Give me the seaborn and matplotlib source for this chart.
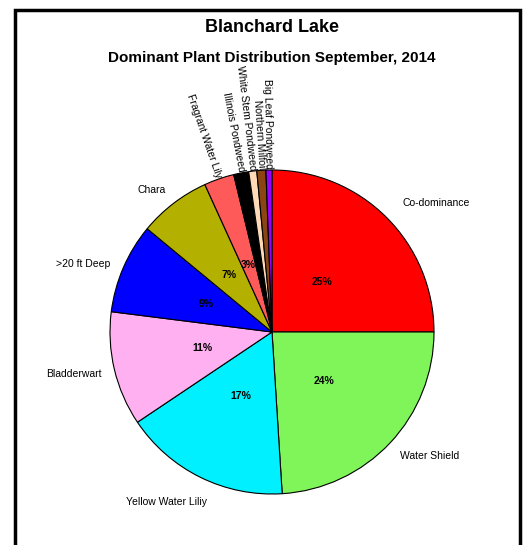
import matplotlib
matplotlib.use("Agg")
import matplotlib.pyplot as plt
import numpy as np
import seaborn as sns
from matplotlib.patches import Rectangle

# ---- data ----
categories = ["Co-dominance", "Water Shield", "Yellow Water Liliy", "Bladderwart",
              ">20 ft Deep", "Chara", "Fragrant Water Lily", "Illinois Pondweed",
              "White Stem Pondweed", "Northern Milfoil", "Big Leaf Pondweed"]
shares = [25, 24, 16.6, 11.4, 9, 7.2, 3, 1.5, 0.8, 0.9, 0.6]
colors = ["#FF0000", "#80F55A", "#00F0FF", "#FFB0F0", "#0000FF", "#B4B000",
          "#FF5A5A", "#000000", "#FFDAB9", "#8B4513", "#9900FF"]
rotated = ["Fragrant Water Lily", "Illinois Pondweed", "White Stem Pondweed",
           "Northern Milfoil", "Big Leaf Pondweed"]

# small label nudges, in pixels (x right, y up)
nudge = {"Co-dominance": (4, 3), "Water Shield": (-2, -2),
         "Yellow Water Liliy": (14, -10), "Bladderwart": (3, -1),
         ">20 ft Deep": (2, -3), "Chara": (2, 1)}

sns.set_theme(style="white")
plt.rcParams["font.family"] = ["Liberation Sans", "DejaVu Sans"]
plt.rcParams["text.color"] = "black"

fig = plt.figure(figsize=(5.29, 5.45), dpi=100)

# frame around the chart (bottom edge runs off the image)
fig.patches.append(Rectangle((15 / 529, -0.05), (520 - 15) / 529, 1 - 9.5 / 545 + 0.05,
                             transform=fig.transFigure, fill=False,
                             edgecolor="black", linewidth=2.5))

fig.text(272 / 529, 1 - 27 / 545, "Blanchard Lake", ha="center", va="center",
         fontsize=13, fontweight="bold")
fig.text(272 / 529, 1 - 58 / 545, "Dominant Plant Distribution September, 2014",
         ha="center", va="center", fontsize=11, fontweight="bold")

R_PX = 162
ax = fig.add_axes([110 / 529, 1 - 494 / 545, 2 * R_PX / 529, 2 * R_PX / 545])
wedges, _ = ax.pie(shares, colors=colors, startangle=90, counterclock=False,
                   wedgeprops={"edgecolor": "black", "linewidth": 0.8})
ax.set_xlim(-1, 1)
ax.set_ylim(-1, 1)
ax.set_aspect("equal")
ax.axis("off")

total = sum(shares)
for w, name, v in zip(wedges, categories, shares):
    mid = np.deg2rad((w.theta1 + w.theta2) / 2)
    cx, cy = np.cos(mid), np.sin(mid)
    if name in rotated:
        rot = np.rad2deg(mid) + (0 if cx > 0 else 180)
        ax.text(1.005 * cx, 1.005 * cy, name, ha="right" if cx < 0 else "left",
                va="center", rotation=rot, rotation_mode="anchor", fontsize=7.5,
                clip_on=False)
    else:
        dx, dy = nudge.get(name, (0, 0))
        ax.text(1.1 * cx + dx / R_PX, 1.1 * cy + dy / R_PX, name,
                ha="left" if cx > 0 else "right", va="center", fontsize=7.5,
                clip_on=False)
    pct = 100 * v / total
    if pct >= 2.5:
        ax.text(0.44 * cx, 0.44 * cy, f"{round(pct)}%", ha="center", va="center",
                fontsize=7.5, fontweight="bold")

fig.savefig("out.png", dpi=100)
